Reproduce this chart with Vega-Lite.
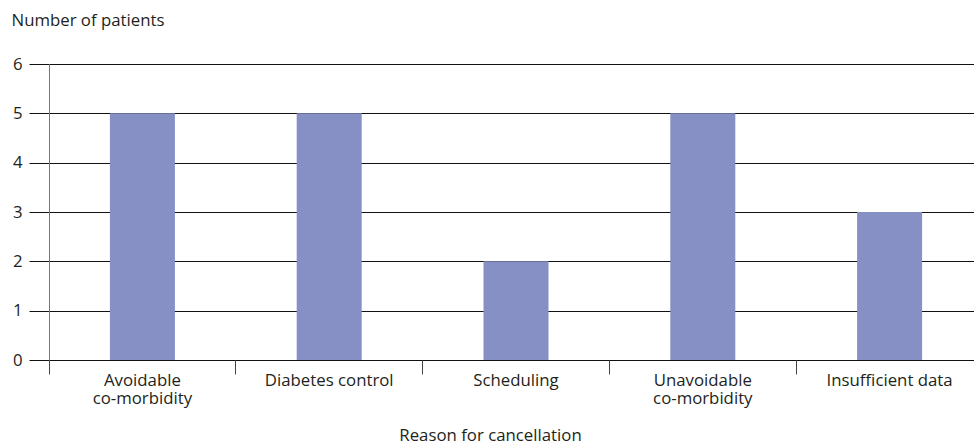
{
  "$schema": "https://vega.github.io/schema/vega-lite/v6.json",
  "autosize": {"type": "none"},
  "padding": {"left": 49, "top": 64, "right": 4, "bottom": 85},
  "width": 921,
  "height": 296,
  "background": "white",
  "config": {
    "view": {"stroke": null},
    "font": "Open Sans",
    "axis": {"labelFont": "Open Sans", "titleFont": "Open Sans", "labelColor": "#231f20", "titleColor": "#231f20", "titleFontWeight": "normal"}
  },
  "data": {
    "values": [
      {"reason": "Avoidable co-morbidity", "patients": 5},
      {"reason": "Diabetes control", "patients": 5},
      {"reason": "Scheduling", "patients": 2},
      {"reason": "Unavoidable co-morbidity", "patients": 5},
      {"reason": "Insufficient data", "patients": 3}
    ]
  },
  "mark": {"type": "bar", "color": "#8690c5", "width": {"band": 0.348}},
  "encoding": {
    "x": {
      "field": "reason",
      "type": "nominal",
      "sort": null,
      "scale": {"range": [0, 934], "paddingInner": 0, "paddingOuter": 0},
      "axis": {
        "title": "Reason for cancellation",
        "titleFontSize": 16.8,
        "titleX": 441,
        "titleY": 80,
        "titleAlign": "center",
        "titleBaseline": "alphabetic",
        "titleAnchor": null,
        "labelAngle": 0,
        "labelFontSize": 16.8,
        "labelLineHeight": 18.5,
        "labelPadding": -2,
        "labelBound": false,
        "labelOverlap": false,
        "labelExpr": "indexof(datum.label, ' co-morbidity') > 0 ? [replace(datum.label, ' co-morbidity', ''), 'co-morbidity'] : datum.label",
        "domain": false,
        "ticks": true,
        "bandPosition": 0,
        "tickSize": 14,
        "tickColor": "#444444",
        "grid": false
      }
    },
    "y": {
      "field": "patients",
      "type": "quantitative",
      "scale": {"domain": [0, 6], "nice": false},
      "axis": {
        "title": "Number of patients",
        "titleFontSize": 16.8,
        "titleAngle": 0,
        "titleX": -38,
        "titleY": -39,
        "titleAlign": "left",
        "titleBaseline": "alphabetic",
        "titleAnchor": null,
        "values": [0, 1, 2, 3, 4, 5, 6],
        "labelFontSize": 16.8,
        "labelPadding": 7,
        "tickSize": 20,
        "tickColor": "#111111",
        "domainColor": "#777777",
        "grid": true,
        "gridColor": "#111111",
        "gridOpacity": 1,
        "gridWidth": 1
      }
    }
  }
}
